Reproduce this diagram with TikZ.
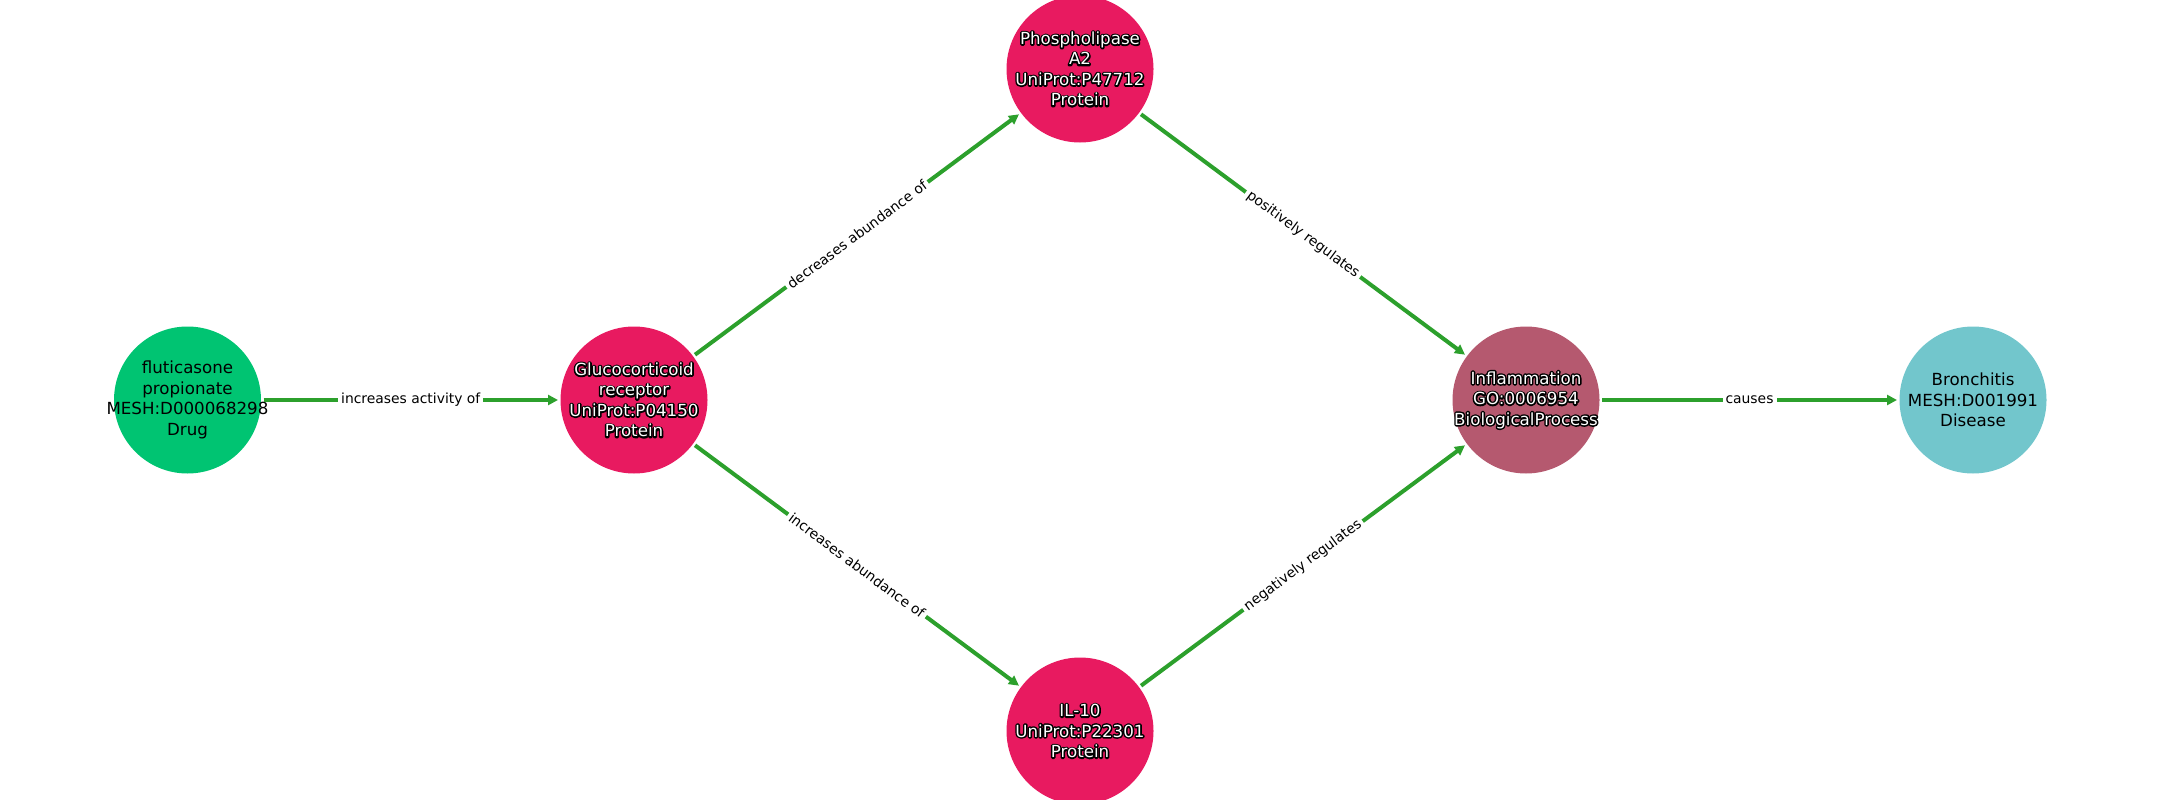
\documentclass[tikz,border=0pt]{standalone}
\usepackage{fontspec}
\setmainfont{DejaVu Sans}
\usetikzlibrary{arrows.meta}
\definecolor{edgegreen}{HTML}{2CA02C}
\definecolor{drugc}{HTML}{00C472}
\definecolor{protc}{HTML}{E81A60}
\definecolor{procc}{HTML}{B5596F}
\definecolor{disc}{HTML}{72C6CC}
\newcommand\wtxt[1]{\leavevmode\rlap{\special{pdf:literal direct 1 Tr 3 w 1 j 0 G}#1\special{pdf:literal direct 0 Tr}}\textcolor{white}{#1}}
\tikzset{
  ent/.style={circle, minimum size=147pt, inner sep=0pt, outer sep=2.5pt, draw=none},
  txt/.style={align=center, inner sep=0pt, font=\fontsize{16.67}{20.5}\selectfont},
  edge/.style={draw=edgegreen, line width=4pt, -{Triangle[length=10pt,width=10pt]}},
  elabel/.style={fill=white, inner sep=3pt, text=black, font=\fontsize{13.89}{16}\selectfont}
}
\begin{document}
\begin{tikzpicture}[x=1pt,y=-1pt]
\useasboundingbox (0,0) rectangle (2160,800);
\node[ent, fill=drugc, label={[txt]center:{fluticasone\\propionate\\MESH:D000068298\\Drug}}] (drug) at (187.5,400) {};
\node[ent, fill=protc, label={[txt]center:{\wtxt{Glucocorticoid}\\\wtxt{receptor}\\\wtxt{UniProt:P04150}\\\wtxt{Protein}}}] (gr) at (634,400) {};
\node[ent, fill=protc, label={[txt]center:{\wtxt{Phospholipase}\\\wtxt{A2}\\\wtxt{UniProt:P47712}\\\wtxt{Protein}}}] (pla) at (1080,69) {};
\node[ent, fill=protc, label={[txt]center:{\wtxt{IL-10}\\\wtxt{UniProt:P22301}\\\wtxt{Protein}}}] (il) at (1080,731) {};
\node[ent, fill=procc, label={[txt]center:{\wtxt{Inflammation}\\\wtxt{GO:0006954}\\\wtxt{BiologicalProcess}}}] (inf) at (1526,400) {};
\node[ent, fill=disc, label={[txt]center:{Bronchitis\\MESH:D001991\\Disease}}] (bro) at (1973,400) {};
\draw[edge] (drug) -- node[elabel] {increases activity of} (gr);
\draw[edge] (gr) -- node[elabel, sloped] {decreases abundance of} (pla);
\draw[edge] (gr) -- node[elabel, sloped] {increases abundance of} (il);
\draw[edge] (pla) -- node[elabel, sloped] {positively regulates} (inf);
\draw[edge] (il) -- node[elabel, sloped] {negatively regulates} (inf);
\draw[edge] (inf) -- node[elabel] {causes} (bro);
\end{tikzpicture}
\end{document}
